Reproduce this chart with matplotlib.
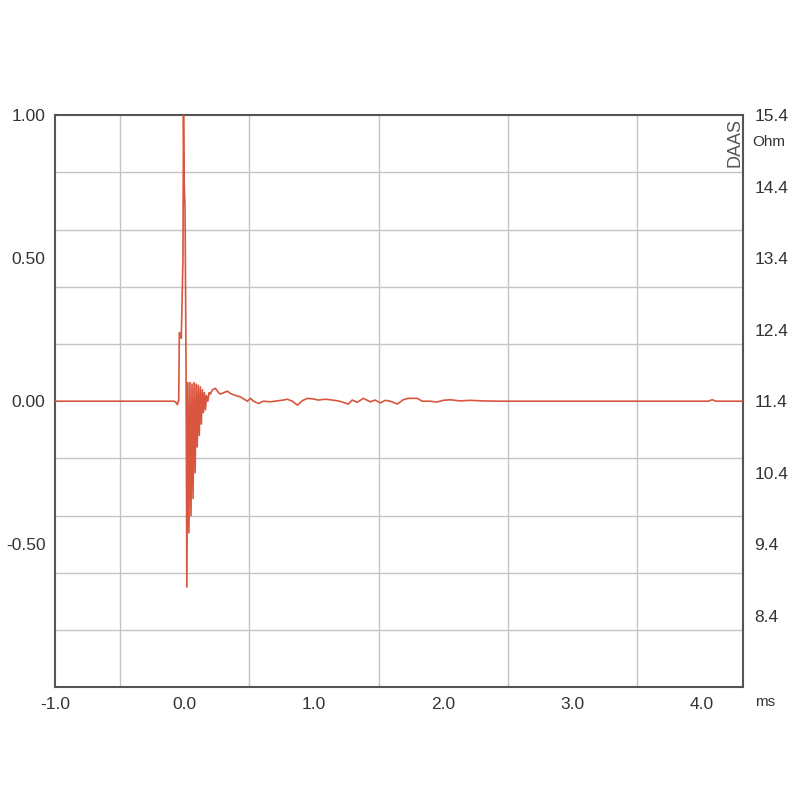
import matplotlib.pyplot as plt

# impulse response, time in ms, amplitude normalised
t_ms = [-1.0, -0.08, -0.065, -0.055, -0.048, -0.045, -0.04, -0.025, -0.012, -0.008,
        -0.002, 0.004, 0.012, 0.018, 0.026, 0.034, 0.042, 0.05, 0.058, 0.066,
        0.074, 0.082, 0.09, 0.098, 0.106, 0.114, 0.122, 0.13, 0.138, 0.146,
        0.154, 0.162, 0.17, 0.18, 0.19, 0.2,
        0.216, 0.239, 0.263, 0.278, 0.332, 0.355, 0.394, 0.432, 0.486, 0.51,
        0.533, 0.572, 0.61, 0.664, 0.718, 0.764, 0.795, 0.834, 0.873, 0.912,
        0.95, 0.996, 1.035, 1.089, 1.143, 1.189, 1.228, 1.267, 1.297, 1.336,
        1.382, 1.436, 1.475, 1.514, 1.552, 1.591, 1.645, 1.691, 1.73, 1.799,
        1.838, 1.9, 1.95, 2.0, 2.054, 2.131, 2.208, 2.309, 2.44, 4.05, 4.08,
        4.11, 4.32]
amp = [0.0, 0.0, -0.005, -0.012, 0.0, 0.0, 0.24, 0.22, 0.5, 1.0,
       0.75, 0.68, 0.1, -0.65, 0.065, -0.46, 0.065, -0.4, 0.06, -0.34,
       0.065, -0.25, 0.06, -0.16, 0.055, -0.12, 0.05, -0.08, 0.04, -0.04,
       0.03, -0.03, 0.02, 0.0, 0.03, 0.025,
       0.04, 0.045, 0.03, 0.025, 0.035, 0.027, 0.02, 0.015, 0.0, 0.01,
       0.0, -0.008, 0.0, -0.002, 0.001, 0.004, 0.007, 0.0, -0.014, 0.002,
       0.01, 0.008, 0.004, 0.007, 0.004, 0.001, -0.004, -0.01, 0.004, -0.004,
       0.01, -0.002, 0.004, -0.006, 0.003, 0.0, -0.01, 0.005, 0.01, 0.01,
       0.0, 0.0, -0.003, 0.003, 0.005, 0.001, 0.003, 0.001, 0.0, 0.0, 0.005,
       0.0, 0.0]

x_ticks = [-1.0, 0.0, 1.0, 2.0, 3.0, 4.0]
y_ticks = [-0.5, 0.0, 0.5, 1.0]
ohm_ticks = [8.4, 9.4, 10.4, 11.4, 12.4, 13.4, 14.4, 15.4]

plt.rcParams['font.family'] = ['Liberation Sans', 'DejaVu Sans']

fig = plt.figure(figsize=(8, 8), dpi=100)
ax = fig.add_axes([0.069, 0.141, 0.86, 0.715])

ax.plot(t_ms, amp, color='#d9553f', lw=1.2, zorder=3)

ax.set_xlim(-1.0, 4.32)
ax.set_ylim(-1.0, 1.0)

ax.set_xticks(x_ticks)
ax.set_xticklabels(['%.1f' % v for v in x_ticks])
ax.set_yticks(y_ticks)
ax.set_yticklabels(['%.2f' % v for v in y_ticks])
ax.set_xticks([-0.5, 0.0, 0.5, 1.0, 1.5, 2.0, 2.5, 3.0, 3.5, 4.0], minor=True)
ax.set_yticks([-0.8, -0.6, -0.4, -0.2, 0.0, 0.2, 0.4, 0.6, 0.8], minor=True)
ax.grid(which='minor', color='#c4c4c4', lw=1.0)
ax.grid(which='major', visible=False)
ax.tick_params(which='both', length=0, labelsize=12.5, colors='#333333', pad=7)

for s in ax.spines.values():
    s.set_color('#555555')
    s.set_linewidth(1.5)

ax2 = ax.twinx()
ax2.set_ylim(7.4, 15.4)
ax2.set_yticks(ohm_ticks)
ax2.set_yticklabels(['%.1f' % v for v in ohm_ticks])
ax2.tick_params(length=0, labelsize=12.5, colors='#333333', pad=8)
for s in ax2.spines.values():
    s.set_visible(False)

fig.text(0.94, 0.822, 'Ohm', fontsize=11, color='#333333', va='center', ha='left')
fig.text(0.957, 0.122, 'ms', fontsize=11, color='#333333', va='center', ha='center')
ax.text(0.988, 0.995, 'DAAS', transform=ax.transAxes, rotation=90, fontsize=13,
        color='#555555', ha='center', va='top')

fig.savefig('out.png', dpi=100, facecolor='white')
